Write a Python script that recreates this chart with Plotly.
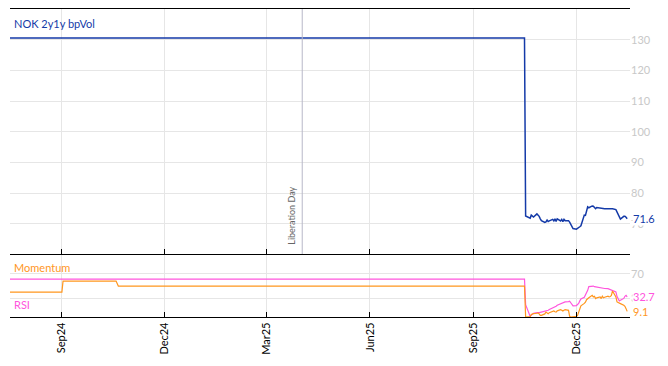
import pandas as pd
import plotly.graph_objects as go

# ---------------- data ----------------
# pre-drop segments (step points)
vol_pre_dates = ["2024-07-17", "2025-10-16"]
vol_pre_vals = [130.6, 130.6]

rsi_pre_dates = ["2024-07-17", "2025-10-16"]
rsi_pre_vals = [61.3, 61.3]

mom_pre_dates = ["2024-07-17", "2024-09-01", "2024-09-02", "2024-10-19", "2024-10-21", "2025-10-16"]
mom_pre_vals = [40.3, 40.3, 58.0, 58.0, 50.0, 50.0]

# post-drop daily (business days from 2025-10-17)
post_start = "2025-10-17"
vol_post = [72.5, 72.0, 71.8, 72.8, 72.5, 72.2, 73.2, 72.8, 72.4, 71.6,
            71.0, 70.4, 70.6, 71.2, 70.7, 70.9, 71.4, 70.9, 71.6, 70.7,
            71.6, 70.9, 71.4, 70.7, 71.4, 71.0, 71.0, 70.5, 69.6, 68.8,
            68.4, 68.2, 68.4, 68.7, 69.0, 69.3, 72.8, 72.7, 74.3, 75.5,
            75.2, 75.8, 75.7, 75.4, 74.9, 75.3, 75.1, 74.9, 75.0, 74.9,
            74.9, 74.9, 74.9, 74.9, 74.9, 74.9, 74.6, 73.9, 72.8, 72.0,
            71.5, 72.4, 72.4, 72.1, 71.6]
rsi_post = [20, 3, 1, 3, 5, 6, 7, 6.5, 7, 7.5,
            8, 8.5, 9.5, 10, 10.8, 12, 14, 15.5, 16.5, 17.3,
            19, 21.6, 22, 23, 23.5, 24.3, 24.8, 25.4, 23, 20,
            18, 18.5, 20, 22, 26, 29, 32, 35, 39, 43,
            49, 50, 50, 49, 48.6, 48, 47.6, 47.5, 47, 46.8,
            46, 45.8, 45, 44.5, 43.5, 42, 40.5, 33, 29, 26,
            27, 30, 33.5, 35, 32.7]
mom_post = [0, 0, 0.5, 4, 5, 5.4, 6, 6.5, 5, 2.7,
            2.7, 5, 8, 6.5, 5.4, 7, 9, 9.7, 8.5, 8,
            10, 11.9, 11, 9.7, 11, 11.9, 10.8, 1, 0, 0,
            0, 1, 2.7, 7, 13.5, 18, 22, 24, 28, 30,
            31, 35, 32.4, 33.5, 29.7, 31, 32.4, 29.7, 33.5, 31,
            32, 33.5, 32.4, 33, 35, 42, 32.4, 24.3, 23, 21.6,
            21.6, 19, 17.3, 13.5, 9.1]

vol_ticks = [70, 80, 90, 100, 110, 120, 130]
osc_ticks = [30, 70]
event_date = "2025-04-02"
event_label = "Liberation Day"
x_range = ["2024-07-17", "2026-01-17 12:00"]

# ---------------- build ----------------
post_dates = list(pd.bdate_range(post_start, periods=len(vol_post)))
vol_x = list(pd.to_datetime(vol_pre_dates)) + post_dates
vol_y = vol_pre_vals + vol_post
rsi_x = list(pd.to_datetime(rsi_pre_dates)) + post_dates
rsi_y = rsi_pre_vals + rsi_post
mom_x = list(pd.to_datetime(mom_pre_dates)) + post_dates
mom_y = mom_pre_vals + mom_post

BLUE = "#143aa8"
PINK = "#ff55dd"
ORANGE = "#ff961e"
GRID = "#e6e6e6"
TICKC = "#c8c8c8"
FONT = "Lato"

fig = go.Figure()
fig.add_trace(go.Scatter(x=vol_x, y=vol_y, mode="lines", line=dict(color=BLUE, width=1.5),
                         xaxis="x", yaxis="y", showlegend=False, hoverinfo="skip"))
fig.add_trace(go.Scatter(x=rsi_x, y=rsi_y, mode="lines", line=dict(color=PINK, width=1.2),
                         xaxis="x2", yaxis="y2", showlegend=False, hoverinfo="skip"))
fig.add_trace(go.Scatter(x=mom_x, y=mom_y, mode="lines", line=dict(color=ORANGE, width=1.2),
                         xaxis="x2", yaxis="y2", showlegend=False, hoverinfo="skip"))

xcommon = dict(type="date", range=x_range, dtick="M3", tick0="2024-09-01",
               showgrid=True, gridcolor=GRID, gridwidth=1, zeroline=False,
               ticks="inside", ticklen=5, tickcolor="#000", showline=True,
               linecolor="#000", linewidth=1.2)

fig.update_layout(
    width=668, height=366,
    margin=dict(l=10, r=38, t=9, b=49),
    paper_bgcolor="white", plot_bgcolor="white",
    font=dict(family=FONT, size=11, color="#000"),
    xaxis=dict(**xcommon, anchor="y", domain=[0, 1], showticklabels=False, mirror=True),
    xaxis2=dict(**xcommon, anchor="y2", matches="x", tickformat="%b%y", tickangle=-90,
                tickfont=dict(family=FONT, size=11, color="#000")),
    yaxis=dict(domain=[0.2045, 1], range=[60.1, 140.1], side="right", tickvals=vol_ticks,
               showgrid=True, gridcolor=GRID, zeroline=False, ticks="", showline=False,
               tickfont=dict(color=TICKC, size=11), anchor="x"),
    yaxis2=dict(domain=[0, 0.201], range=[0, 100], side="right", tickvals=osc_ticks,
                showgrid=True, gridcolor=GRID, zeroline=False, ticks="", showline=False,
                tickfont=dict(color=TICKC, size=11), anchor="x2"),
)

fig.add_shape(type="line", xref="x", yref="y domain", x0=event_date, x1=event_date,
              y0=0, y1=1, line=dict(color="#b8b8c8", width=1))

ann = []
ann.append(dict(x=0, xref="paper", y=1, yref="y domain", xanchor="left", yanchor="top",
                xshift=2, yshift=-6, text="NOK 2y1y bpVol", showarrow=False,
                font=dict(color=BLUE, size=11)))
ann.append(dict(x=0, xref="paper", y=1, yref="y2 domain", xanchor="left", yanchor="top",
                xshift=2, yshift=-4, text="Momentum", showarrow=False,
                font=dict(color=ORANGE, size=11)))
ann.append(dict(x=0, xref="paper", y=0, yref="y2 domain", xanchor="left", yanchor="bottom",
                xshift=2, yshift=4, text="RSI", showarrow=False,
                font=dict(color=PINK, size=11)))
ann.append(dict(x=event_date, xref="x", y=0, yref="y domain", xanchor="right", yanchor="bottom",
                xshift=-4, yshift=7, text=event_label, textangle=-90, showarrow=False,
                font=dict(color="#666", size=9)))
for val, yr, col in [(vol_y[-1], "y", BLUE), (rsi_y[-1], "y2", PINK), (mom_y[-1], "y2", ORANGE)]:
    ann.append(dict(x=1, xref="paper", y=val, yref=yr, xanchor="left", yanchor="middle",
                    xshift=2, text=f"{val:.1f}", showarrow=False, bgcolor="white",
                    borderpad=0, font=dict(color=col, size=11)))
fig.update_layout(annotations=ann)

fig.write_html("out.html")
